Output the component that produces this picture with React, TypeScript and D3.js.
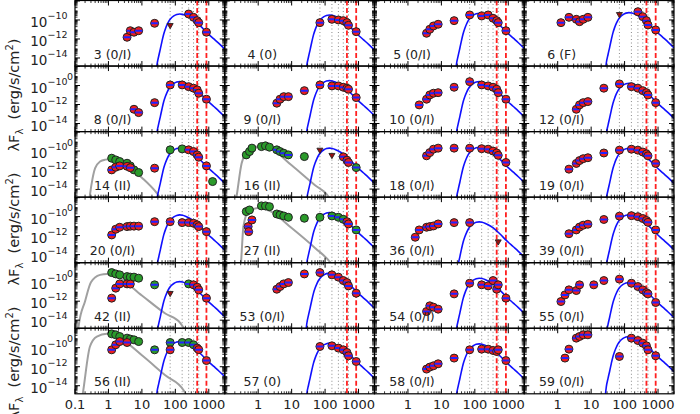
import React from "react";
import * as d3 from "d3";

type P = [number, number, string]; // [wavelength (um), log10 lambda F_lambda, kind]

const panelLabels = [
  "3 (0/I)", "4 (0)", "5 (0/I)", "6 (F)",
  "8 (0/I)", "9 (0/I)", "10 (0/I)", "12 (0/I)",
  "14 (II)", "16 (II)", "18 (0/I)", "19 (0/I)",
  "20 (0/I)", "27 (II)", "36 (0/I)", "39 (0/I)",
  "42 (II)", "53 (0/I)", "54 (0/I)", "55 (0/I)",
  "56 (II)", "57 (0)", "58 (0/I)", "59 (0/I)",
];

// log10 of the peak of each blue greybody curve
const bluePeaks = [
  -9.37, -9.47, -9.3, -9.23,
  -9.59, -9.48, -9.59, -9.76,
  -9.69, -9.69, -9.6, -9.7,
  -9.82, -9.58, -10.55, -9.8,
  -9.94, -9.05, -9.58, -10.04,
  -9.35, -9.52, -9.59, -8.82,
];

// shape of the blue curve relative to its peak: [wavelength, delta log]
const blueShape: [number, number][] = [
  [25, -7.2], [28.4, -5.3], [32, -4.4], [36, -3.6], [40, -2.85], [45, -2.1], [50, -1.6],
  [57, -1.1], [64, -0.75], [72, -0.5], [90, -0.2], [110, -0.05], [135, 0], [165, -0.04],
  [200, -0.14], [250, -0.3], [355, -0.64], [565, -1.28], [890, -1.98], [1415, -2.62],
  [2000, -3.1], [3000, -3.7],
];

const gray14: [number, number][] = [[0.26, -15.5], [0.28, -14.6], [0.33, -13], [0.4, -11.8], [0.56, -11.1], [0.8, -10.9], [1.12, -10.85], [2.24, -11.0], [5, -11.9], [10, -12.8], [28, -14.43], [40, -15.2]];
const gray16: [number, number][] = [[0.21, -15.5], [0.23, -14.6], [0.32, -11.28], [0.4, -10.4], [0.72, -9.69], [1.29, -9.45], [2.27, -9.69], [10, -11.5], [50, -13.6], [115, -14.6], [150, -15.2]];
const gray27: [number, number][] = [[0.3, -15.5], [0.33, -13], [0.36, -11.05], [0.51, -9.47], [1.0, -9.1], [2.2, -9.4], [10, -11.2], [50, -13.3], [145, -14.85], [170, -15.2]];
const gray42: [number, number][] = [[0.12, -15.5], [0.13, -14.5], [0.2, -12], [0.3, -10], [0.56, -9.23], [0.89, -9.13], [2, -9.5], [10, -11.4], [50, -13.3], [141, -14.3], [200, -15.1]];
const gray56: [number, number][] = [[0.16, -15.5], [0.175, -14.6], [0.28, -9.87], [0.45, -8.82], [0.89, -8.54], [2, -8.9], [10, -10.8], [50, -12.9], [178, -14.5], [220, -15.1]];

const pts3: P[] = [[3.6, -11.82, "r"], [4.5, -11.13, "r"], [5.8, -11.29, "r"], [8, -11.13, "r"], [24, -10.35, "r"], [70, -10.63, "t"], [250, -9.37, "r"], [350, -9.72, "r"], [450, -10.07, "r"], [500, -10.28, "r"], [850, -11.29, "r"]];
const pts4: P[] = [[70, -10.28, "r"], [160, -9.93, "r"], [250, -10.0, "r"], [350, -10.07, "r"], [450, -10.28, "r"], [500, -10.56, "r"], [850, -11.23, "r"]];
const pts5: P[] = [[3.6, -11.4, "r"], [4.5, -10.98, "r"], [5.8, -10.63, "r"], [8, -10.45, "r"], [24, -10.07, "r"], [70, -9.47, "r"], [160, -9.58, "r"], [250, -9.47, "r"], [350, -9.82, "r"], [450, -10.07, "r"], [500, -10.28, "r"], [850, -11.13, "r"]];
const pts6: P[] = [[1.25, -10.28, "r"], [2.17, -9.72, "r"], [3.6, -9.93, "r"], [4.5, -10.18, "r"], [5.8, -9.93, "r"], [8, -9.72, "r"], [70, -9.47, "t"], [250, -9.13, "r"], [350, -9.65, "r"], [450, -10.07, "r"], [500, -10.52, "r"], [850, -11.05, "r"]];
const pts8: P[] = [[5.8, -12.5, "r"], [8, -12.85, "r"], [24, -11.8, "r"], [70, -9.94, "r"], [160, -9.94, "r"], [250, -10.12, "r"], [350, -10.28, "r"], [450, -10.46, "r"], [500, -10.81, "r"], [850, -11.44, "r"]];
const pts9: P[] = [[3.6, -11.86, "r"], [4.5, -11.44, "r"], [5.8, -11.17, "r"], [8, -11.17, "r"], [24, -10.54, "r"], [70, -9.94, "r"], [160, -10.04, "r"], [250, -10.04, "r"], [350, -10.18, "r"], [450, -10.28, "r"], [500, -10.39, "r"], [850, -11.27, "r"]];
const pts10: P[] = [[2.17, -12.04, "r"], [3.6, -11.44, "r"], [4.5, -10.99, "r"], [5.8, -10.81, "r"], [8, -10.75, "r"], [24, -10.18, "r"], [70, -9.59, "r"], [160, -9.94, "r"], [250, -10.04, "r"], [350, -10.18, "r"], [450, -10.39, "r"], [500, -10.75, "r"], [850, -11.44, "r"]];
const pts12: P[] = [[3.6, -12.5, "r"], [4.5, -12.04, "r"], [5.8, -11.8, "r"], [8, -11.69, "r"], [24, -10.28, "r"], [70, -9.83, "r"], [160, -10.12, "r"], [250, -10.28, "r"], [350, -10.54, "r"], [450, -10.75, "r"], [500, -10.99, "r"], [850, -11.8, "r"]];
const pts14: P[] = [[1.25, -10.75, "g"], [1.65, -10.93, "g"], [2.17, -11.1, "g"], [3.6, -11.28, "g"], [4.5, -11.56, "g"], [5.8, -11.98, "g"], [8, -12.26, "g"], [1.25, -11.98, "r"], [1.65, -11.7, "r"], [2.17, -11.56, "r"], [3.6, -11.6, "r"], [4.5, -11.75, "r"], [24, -11.8, "r"], [70, -9.87, "g"], [160, -9.77, "g"], [250, -9.87, "r"], [350, -10.05, "r"], [450, -10.4, "r"], [500, -10.64, "r"], [850, -11.56, "r"], [1300, -13.21, "g"]];
const pts16: P[] = [[0.44, -10.4, "g"], [0.55, -10.05, "g"], [0.65, -9.69, "g"], [1.25, -9.53, "g"], [1.65, -9.45, "g"], [2.17, -9.59, "g"], [3.6, -9.87, "b"], [4.5, -10.05, "b"], [5.8, -10.22, "b"], [8, -10.4, "b"], [24, -10.58, "g"], [70, -9.95, "t"], [160, -10.5, "t"], [350, -10.61, "r"], [450, -10.96, "r"], [500, -11.2, "r"], [850, -11.74, "b"]];
const pts18: P[] = [[3.6, -10.5, "r"], [4.5, -10.16, "r"], [5.8, -9.8, "r"], [8, -9.69, "r"], [24, -9.69, "r"], [70, -9.7, "r"], [160, -9.75, "r"], [250, -9.8, "r"], [350, -10.0, "r"], [450, -10.2, "r"], [500, -10.45, "r"], [850, -11.2, "r"]];
const pts19: P[] = [[2.17, -11.9, "r"], [3.6, -11.3, "r"], [4.5, -11.0, "r"], [5.8, -10.8, "r"], [8, -10.7, "r"], [24, -10.2, "r"], [70, -9.9, "r"], [160, -9.8, "r"], [250, -9.9, "r"], [350, -10.1, "r"], [450, -10.3, "r"], [500, -10.5, "r"], [850, -11.3, "r"]];
const pts20: P[] = [[1.25, -11.93, "r"], [1.65, -11.33, "r"], [2.17, -11.12, "r"], [3.6, -11.05, "r"], [4.5, -11.0, "r"], [5.8, -11.0, "r"], [8, -11.0, "r"], [24, -10.53, "r"], [70, -10.53, "r"], [160, -10.63, "r"], [250, -10.63, "r"], [350, -10.7, "r"], [450, -10.87, "r"], [500, -11.05, "r"], [850, -11.58, "r"]];
const pts27: P[] = [[0.44, -9.47, "g"], [0.55, -9.3, "g"], [1.25, -8.87, "g"], [1.65, -8.87, "g"], [2.17, -8.95, "g"], [3.6, -9.72, "g"], [4.5, -9.82, "g"], [5.8, -9.93, "g"], [8, -10.07, "g"], [0.5, -11.05, "r"], [0.52, -11.58, "r"], [0.65, -10.35, "r"], [24, -10.17, "g"], [70, -10.07, "g"], [160, -9.93, "b"], [250, -10.07, "b"], [350, -10.28, "b"], [450, -10.53, "r"], [500, -10.77, "r"], [850, -11.4, "b"]];
const pts36: P[] = [[1.65, -12.17, "r"], [2.17, -11.4, "r"], [3.6, -11.12, "r"], [4.5, -11.05, "r"], [5.8, -10.98, "r"], [8, -10.77, "r"], [24, -10.63, "r"], [70, -10.63, "r"], [500, -12.7, "t"]];
const pts39: P[] = [[2.17, -11.8, "r"], [3.6, -11.4, "r"], [4.5, -11.1, "r"], [5.8, -10.9, "r"], [8, -10.8, "r"], [24, -10.3, "r"], [70, -9.95, "r"], [160, -9.9, "r"], [250, -10.0, "r"], [350, -10.2, "r"], [450, -10.4, "r"], [500, -10.6, "r"], [850, -11.4, "r"]];
const pts42: P[] = [[1.25, -8.99, "g"], [1.65, -9.13, "g"], [2.17, -9.23, "g"], [3.6, -9.41, "g"], [4.5, -9.47, "g"], [5.8, -9.47, "g"], [8, -9.58, "g"], [1.25, -11.68, "r"], [1.65, -10.63, "r"], [2.17, -10.18, "r"], [3.6, -10.18, "r"], [4.5, -10.2, "r"], [24, -10.28, "b"], [70, -11.23, "t"], [250, -10.18, "b"], [350, -10.28, "r"], [450, -10.53, "r"], [500, -10.81, "r"], [850, -11.68, "r"]];
const pts53: P[] = [[3.6, -10.74, "r"], [4.5, -10.46, "r"], [5.8, -10.18, "r"], [8, -10.04, "r"], [24, -9.13, "r"], [70, -8.99, "r"], [160, -9.23, "r"], [250, -9.47, "r"], [350, -9.83, "r"], [450, -10.04, "r"], [500, -10.39, "r"], [850, -11.16, "r"]];
const pts54: P[] = [[3.6, -13.09, "r"], [4.5, -12.49, "r"], [5.8, -12.63, "r"], [8, -12.84, "r"], [24, -11.23, "r"], [70, -10.11, "r"], [160, -10.28, "r"], [250, -10.39, "r"], [350, -9.83, "r"], [450, -10.74, "r"], [500, -10.28, "r"], [850, -11.68, "r"]];
const pts55: P[] = [[1.25, -12.04, "r"], [1.65, -11.34, "r"], [2.17, -10.81, "r"], [3.6, -10.88, "r"], [4.5, -10.28, "r"], [12, -10.28, "r"], [24, -9.83, "r"], [70, -9.68, "r"], [160, -10.11, "r"], [250, -10.46, "r"], [350, -10.81, "r"], [450, -11.1, "r"], [500, -11.23, "r"], [850, -12.14, "r"]];
const pts56: P[] = [[1.25, -8.54, "g"], [1.65, -8.64, "g"], [2.17, -8.82, "g"], [3.6, -8.99, "g"], [4.5, -9.09, "g"], [5.8, -9.17, "g"], [8, -9.35, "g"], [1.25, -10.22, "r"], [1.65, -9.69, "r"], [2.17, -9.35, "r"], [3.6, -9.45, "r"], [24, -10.22, "b"], [70, -9.45, "b"], [70, -10.22, "r"], [160, -9.45, "b"], [250, -9.45, "b"], [350, -9.69, "b"], [450, -10.04, "r"], [500, -10.2, "r"], [850, -11.35, "r"]];
const pts57: P[] = [[70, -9.87, "r"], [160, -9.8, "r"], [250, -10.04, "r"], [350, -10.22, "r"], [450, -10.5, "r"], [500, -10.85, "r"], [850, -11.45, "r"]];
const pts58: P[] = [[3.6, -12.25, "r"], [4.5, -12.04, "r"], [5.8, -11.9, "r"], [8, -11.69, "r"], [24, -11.09, "r"], [70, -10.22, "r"], [160, -10.15, "r"], [250, -10.15, "r"], [350, -10.29, "r"], [450, -10.4, "r"], [500, -10.22, "r"], [850, -11.35, "r"]];
const pts59: P[] = [[1.65, -11.09, "r"], [2.17, -10.15, "r"], [3.6, -8.99, "r"], [4.5, -8.82, "r"], [5.8, -8.64, "r"], [8, -8.64, "r"], [70, -10.92, "r"], [160, -8.99, "r"], [250, -9.24, "r"], [350, -9.52, "r"], [450, -9.8, "r"], [500, -10.22, "r"], [850, -10.85, "r"]];

const panelPoints: P[][] = [
  pts3, pts4, pts5, pts6, pts8, pts9, pts10, pts12, pts14, pts16, pts18, pts19,
  pts20, pts27, pts36, pts39, pts42, pts53, pts54, pts55, pts56, pts57, pts58, pts59,
];
const panelGray: ([number, number][] | null)[] = [
  null, null, null, null, null, null, null, null, gray14, gray16, null, null,
  null, gray27, null, null, gray42, null, null, null, gray56, null, null, null,
];

const dottedWaves = [70, 160, 250, 350, 500];
const dashedWaves = [450, 850];
const xMajor = [0.1, 1, 10, 100, 1000];
const xTickLabels = ["0.1", "1", "10", "100", "1000"];
const yMajorExp = [-14, -12, -10, -8];
const yLabelExp = [-10, -12, -14];

const W = 700, H = 414;
const L = 75, PW = 149.75, T0 = 0.5, RH = 65.55;
const NC = 4, NR = 6;
const FONT = "DejaVu Sans, sans-serif";

const xMinor: number[] = [];
for (let e = -1; e <= 3; e++) for (let k = 2; k <= 9; k++) { const v = k * 10 ** e; if (v <= 3000) xMinor.push(v); }
const yMinor: number[] = [];
for (let e = -15; e <= -8; e++) for (let k = 2; k <= 9; k++) yMinor.push(k * 10 ** e);

function Panel({ idx }: { idx: number }) {
  const c = idx % NC, r = Math.floor(idx / NC);
  const x0 = L + c * PW, x1 = x0 + PW, y0 = T0 + r * RH, y1 = y0 + RH;
  const x = d3.scaleLog().domain([0.1, 3000]).range([x0, x1]);
  const y = d3.scaleLog().domain([10 ** -14.85, 10 ** -7.95]).range([y1, y0]);
  const clipId = `clip${idx}`;
  const line = d3.line<[number, number]>().x(d => x(d[0])).y(d => y(10 ** d[1])).curve(d3.curveMonotoneX);
  const peak = bluePeaks[idx];
  const blue = blueShape.map(([w, dl]) => [w, peak + dl] as [number, number]);
  const gray = panelGray[idx];
  const pts = panelPoints[idx];
  const yDomain = y.domain();
  const inY = (v: number) => v >= yDomain[0] && v <= yDomain[1];
  const tk: React.ReactElement[] = [];
  const tick = (key: string, xa: number, ya: number, xb: number, yb: number, w: number) =>
    tk.push(<line key={key} x1={xa} y1={ya} x2={xb} y2={yb} stroke="#000" strokeWidth={w} />);
  xMajor.forEach((v, i) => { const px = x(v); tick(`xb${i}`, px, y1, px, y1 - 5, 1); tick(`xt${i}`, px, y0, px, y0 + 5, 1); });
  xMinor.forEach((v, i) => { const px = x(v); tick(`xmb${i}`, px, y1, px, y1 - 2.5, 0.8); tick(`xmt${i}`, px, y0, px, y0 + 2.5, 0.8); });
  yMajorExp.forEach((e, i) => { const v = 10 ** e; if (!inY(v)) return; const py = y(v); tick(`yl${i}`, x0, py, x0 + 5, py, 1); tick(`yr${i}`, x1, py, x1 - 5, py, 1); });
  yMinor.forEach((v, i) => { if (!inY(v)) return; const py = y(v); tick(`yml${i}`, x0, py, x0 + 2.5, py, 0.8); tick(`ymr${i}`, x1, py, x1 - 2.5, py, 0.8); });

  return (
    <g>
      <defs>
        <clipPath id={clipId}><rect x={x0} y={y0} width={PW} height={RH} /></clipPath>
      </defs>
      <g clipPath={`url(#${clipId})`}>
        {dottedWaves.map(w => (
          <line key={`d${w}`} x1={x(w)} x2={x(w)} y1={y0} y2={y1} stroke="#8a8a8a" strokeWidth={1} strokeDasharray="1,2.5" />
        ))}
        {dashedWaves.map(w => (
          <line key={`r${w}`} x1={x(w)} x2={x(w)} y1={y0} y2={y1} stroke="#ff2020" strokeWidth={1.8} strokeDasharray="5,2.5" />
        ))}
        {gray && <path d={line(gray) || ""} fill="none" stroke="#a0a0a0" strokeWidth={2} />}
        <path d={line(blue) || ""} fill="none" stroke="#1010ff" strokeWidth={1.6} />
        {pts.map((p, i) => {
          const px = x(p[0]), py = y(10 ** p[1]);
          if (p[2] === "t") {
            return <path key={i} d={`M${px - 3},${py - 2.4} L${px + 3},${py - 2.4} L${px},${py + 2.8} Z`} fill="#9a1010" stroke="#222" strokeWidth={0.9} />;
          }
          const fill = p[2] === "r" ? "#ee1c1c" : "#2a9a2a";
          const dash = p[2] === "r" || p[2] === "b";
          return (
            <g key={i}>
              <circle cx={px} cy={py} r={4} fill={fill} stroke="#222" strokeWidth={1} />
              {dash && <line x1={px - 3.6} x2={px + 3.6} y1={py} y2={py} stroke="#2222ff" strokeWidth={2} />}
            </g>
          );
        })}
      </g>
      {tk}
      <rect x={x0} y={y0} width={PW} height={RH} fill="none" stroke="#000" strokeWidth={1.2} />
      <text x={x0 + 37.5} y={y1 - 7.5} fontSize={12.5} fontFamily={FONT} textAnchor="middle" fill="#222">{panelLabels[idx]}</text>
      {c === 0 && yLabelExp.map(e => (
        <text key={`yl${e}`} x={67.5} y={y(10 ** e) + 7} fontSize={13.5} fontFamily={FONT} textAnchor="end" fill="#222">
          10<tspan dy={-8} fontSize={9.5}>{`\u2212${-e}`}</tspan>
        </text>
      ))}
      {c === 0 && r > 0 && (
        <text x={67} y={y0 + 14} fontSize={9.5} fontFamily={FONT} fill="#222">0</text>
      )}
      {r === NR - 1 && xMajor.map((v, i) => (c === 0 || i > 0) ? (
        <text key={`xl${i}`} x={x(v)} y={409} fontSize={13} fontFamily={FONT} textAnchor="middle" fill="#222">{xTickLabels[i]}</text>
      ) : null)}
    </g>
  );
}

const yLabelCenters = [95, 229, 363];

export default function App() {
  return (
    <svg width={W} height={H} style={{ display: "block", position: "absolute", left: 0, top: 0, background: "#fff" }}>
      <rect x={0} y={0} width={W} height={H} fill="#fff" />
      {panelLabels.map((_, i) => <Panel key={i} idx={i} />)}
      {yLabelCenters.map((cy, i) => (
        <text key={i} transform={`translate(19,${cy}) rotate(-90)`} fontSize={14.5} fontFamily={FONT} textAnchor="middle" fill="#222">
          λF<tspan dy={4} fontSize={10}>λ</tspan><tspan dy={-4}>{"\u00a0\u00a0(erg/s/cm"}</tspan><tspan dy={-6} fontSize={10}>2</tspan><tspan dy={6}>)</tspan>
        </text>
      ))}
    </svg>
  );
}
